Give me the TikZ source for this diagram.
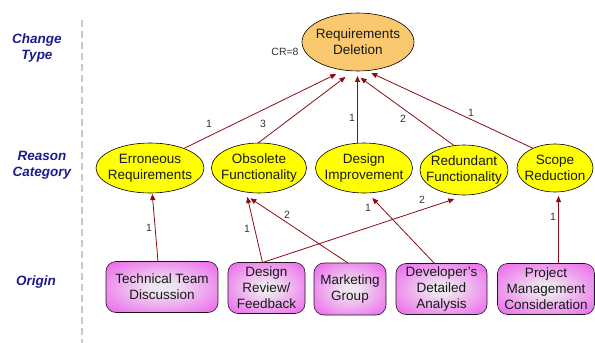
\documentclass[tikz,border=0pt]{standalone}
\usepackage{fontspec}
\setmainfont{Liberation Sans}
\usetikzlibrary{shapes.geometric,arrows.meta}
\definecolor{arrred}{RGB}{140,10,20}
\definecolor{navyt}{RGB}{28,28,140}
\definecolor{delfill}{RGB}{250,200,110}
\definecolor{yel}{RGB}{255,255,0}
\definecolor{boxout}{RGB}{238,108,238}
\definecolor{boxin}{RGB}{238,230,238}
\definecolor{dashgray}{RGB}{200,200,200}
\pgfdeclareradialshading{boxshade}{\pgfpoint{0bp}{0bp}}{%
  color(0bp)=(boxin); color(5bp)=(boxin); color(33bp)=(boxout); color(50bp)=(boxout)}
\begin{document}
\begin{tikzpicture}[x=1pt,y=-1pt,
  side/.style={font=\fontsize{13.5}{16}\selectfont\bfseries\itshape, text=navyt, align=center},
  oval/.style={ellipse, draw=black, line width=0.6pt, fill=yel, inner sep=0pt, outer sep=0pt},
  ovaltext/.style={font=\fontsize{13.5}{16}\selectfont, align=center, inner sep=0pt, text=black!90},
  origin/.style={rectangle, rounded corners=10pt, draw=black!90, line width=0.6pt,
    shading=boxshade, inner sep=0pt, outer sep=0pt,
    minimum height=51pt, font=\fontsize{13.5}{16}\selectfont, align=center, text=black!90},
  arr/.style={draw=arrred, line width=0.8pt, -{Triangle[length=6pt,width=5pt]}},
  elab/.style={font=\fontsize{10.5}{12}\selectfont, text=black!80, inner sep=0pt},
  dashline/.style={draw=dashgray, line width=1.3pt, dash pattern=on 7pt off 4pt}
]
\useasboundingbox (0,0) rectangle (595,343);

% side labels
\node[side] (ct) at (37,48) {Change\\Type};
\node[side] (rc) at (42,165) {Reason\\Category};
\node[side] (or) at (36,282) {Origin};
\draw[dashline] (82,20) -- (82,343);

% change type
\node[oval, fill=delfill, minimum width=112pt, minimum height=58pt,
  label={[name=delt, ovaltext]center:Requirements\\Deletion}] (del) at (358,42) {};
\node[elab] (cr) at (285,52) {CR=8};

% reason category
\node[oval, minimum width=108pt, minimum height=50pt,
  label={[name=errt, ovaltext]center:Erroneous\\Requirements}] (err) at (150,168) {};
\node[oval, minimum width=95pt, minimum height=50pt,
  label={[name=obst, ovaltext]center:Obsolete\\Functionality}] (obs) at (259,168) {};
\node[oval, minimum width=97pt, minimum height=50pt,
  label={[name=dit, ovaltext]center:Design\\Improvement}] (di) at (364,168) {};
\node[oval, minimum width=88pt, minimum height=50pt,
  label={[name=redt, ovaltext]center:Redundant\\Functionality}] (red) at (464,170) {};
\node[oval, minimum width=76pt, minimum height=48pt,
  label={[name=sct, ovaltext]center:Scope\\Reduction}] (sc) at (555,168) {};

% origin
\node[origin, minimum width=112pt] (tech) at (162,287) {Technical Team\\Discussion};
\node[origin, minimum width=77pt] (dr) at (266.5,288) {Design\\Review/\\Feedback};
\node[origin, minimum width=72pt, minimum height=52pt] (mk) at (350,289) {Marketing\\Group};
\node[origin, minimum width=91pt] (dev) at (441.5,289) {Developer's\\Detailed\\Analysis};
\node[origin, minimum width=97pt] (pm) at (546,289) {Project\\Management\\Consideration};

% upper connectors
\draw[arr, shorten >=9pt] (err.30) -- (del.-116.6);
\draw[arr, shorten >=10pt] (obs.92) -- (del.-99);
\draw[arr, shorten >=5pt] (di.north -| del.-91.8) -- (del.-91.8);
\draw[arr, shorten >=12pt] (red.112) -- (del.-104);
\draw[arr, shorten >=5.5pt] (sc.138) -- (del.-74.4);

\node[elab] (l1) at (209,124) {1};
\node[elab] (l2) at (263,124) {3};
\node[elab] (l3) at (352,118) {1};
\node[elab] (l4) at (403,119) {2};
\node[elab] (l5) at (471,113) {1};

% lower connectors
\coordinate (techtop) at ([xshift=-4pt]tech.north);
\coordinate (drtop) at ([xshift=-4pt]dr.north);
\coordinate (mktop) at ([xshift=-2pt]mk.north);
\coordinate (devtop) at ([xshift=-7pt]dev.north);
\coordinate (pmtop) at ([xshift=12.5pt]pm.north);
\draw[arr, shorten >=1pt] (techtop) -- (err.-85.4);
\draw[arr, shorten >=5pt] (drtop) -- (obs.-118.8);
\draw[arr, shorten >=13pt] (drtop) -- (red.-84.5);
\draw[arr, shorten >=14pt] (mktop) -- (obs.-132.9);
\draw[arr, shorten >=7pt] (devtop) -- (di.-82.7);
\draw[arr, shorten >=4pt] (pmtop) -- (pmtop |- sc.south);

\node[elab] (l6) at (149,228) {1};
\node[elab] (l7) at (247,229) {1};
\node[elab] (l8) at (287,215) {2};
\node[elab] (l9) at (422,200) {2};
\node[elab] (l10) at (368,208) {1};
\node[elab] (l11) at (553,217) {1};
\end{tikzpicture}
\end{document}
